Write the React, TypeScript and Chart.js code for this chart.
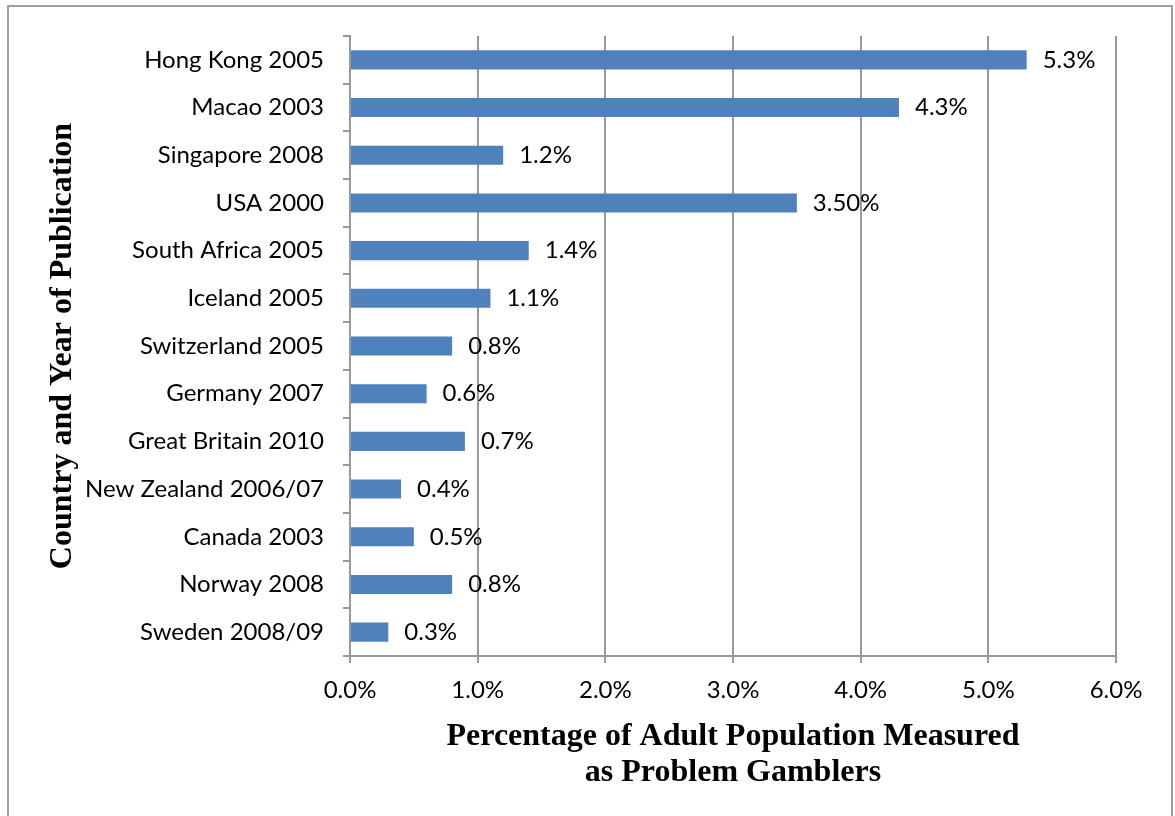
import React, { useEffect, useRef } from "react";
import { Chart, registerables } from "chart.js";

Chart.register(...registerables);

const categories = [
  "Hong Kong 2005",
  "Macao 2003",
  "Singapore 2008",
  "USA 2000",
  "South Africa 2005",
  "Iceland 2005",
  "Switzerland 2005",
  "Germany 2007",
  "Great Britain 2010",
  "New Zealand 2006/07",
  "Canada 2003",
  "Norway 2008",
  "Sweden 2008/09",
];

const values = [5.3, 4.3, 1.2, 3.5, 1.4, 1.1, 0.8, 0.6, 0.9, 0.4, 0.5, 0.8, 0.3];

const valueLabels = [
  "5.3%",
  "4.3%",
  "1.2%",
  "3.50%",
  "1.4%",
  "1.1%",
  "0.8%",
  "0.6%",
  "0.7%",
  "0.4%",
  "0.5%",
  "0.8%",
  "0.3%",
];

const xTitle = ["Percentage of Adult Population Measured", "as Problem Gamblers"];
const yTitle = "Country and Year of Publication";

const labelFont = "Lato, 'Open Sans', sans-serif";
const titleFont = "'Liberation Serif', 'Times New Roman', serif";
const gridColor = "#999999";

const dataLabelPlugin = {
  id: "dataLabels",
  afterDatasetsDraw(chart: any) {
    const ctx = chart.ctx;
    const meta = chart.getDatasetMeta(0);
    ctx.save();
    ctx.font = `24px ${labelFont}`;
    ctx.fillStyle = "#000000";
    ctx.textAlign = "left";
    ctx.textBaseline = "middle";
    meta.data.forEach((el: any, i: number) => {
      ctx.fillText(valueLabels[i], el.x + 16, el.y);
    });
    ctx.restore();
  },
};

export default function App() {
  const ref = useRef<HTMLCanvasElement | null>(null);

  useEffect(() => {
    if (!ref.current) return;
    const chart = new Chart(ref.current, {
      type: "bar",
      data: {
        labels: categories,
        datasets: [
          {
            data: values,
            backgroundColor: "#4f81bd",
            borderWidth: 0,
            categoryPercentage: 1,
            barPercentage: 0.4,
          },
        ],
      },
      options: {
        indexAxis: "y",
        animation: false,
        responsive: false,
        devicePixelRatio: 1,
        layout: { padding: { top: 36, right: 59, bottom: 0, left: 0 } },
        plugins: {
          legend: { display: false },
          tooltip: { enabled: false },
        },
        scales: {
          x: {
            min: 0,
            max: 6,
            afterFit: (scale: any) => {
              scale.height = 160;
            },
            ticks: {
              stepSize: 1,
              color: "#000000",
              padding: 13,
              font: { family: labelFont, size: 24 },
              callback: (v: any) => Number(v).toFixed(1) + "%",
            },
            grid: {
              color: gridColor,
              lineWidth: 2,
              tickLength: 7,
              drawTicks: true,
            },
            border: { color: gridColor, width: 2 },
            title: {
              display: true,
              text: xTitle,
              color: "#000000",
              font: { family: titleFont, size: 32, weight: "bold", lineHeight: 1.1 },
              padding: { top: 0, bottom: 26 },
            },
          },
          y: {
            afterFit: (scale: any) => {
              scale.width = 350;
            },
            ticks: {
              color: "#000000",
              padding: 19,
              font: { family: labelFont, size: 24 },
            },
            grid: {
              drawOnChartArea: false,
              drawTicks: true,
              tickLength: 7,
              color: gridColor,
              lineWidth: 2,
              offset: true,
            },
            border: { color: gridColor, width: 2 },
            title: {
              display: true,
              text: yTitle,
              color: "#000000",
              font: { family: titleFont, size: 32, weight: "bold", lineHeight: 1.1 },
              padding: { top: 45, bottom: 0 },
            },
          },
        },
      },
      plugins: [dataLabelPlugin],
    });
    return () => chart.destroy();
  }, []);

  return (
    <div style={{ position: "absolute", left: 0, top: 0, width: 1175, height: 816, overflow: "hidden", background: "#ffffff" }}>
      <div
        style={{
          position: "absolute",
          left: 7,
          top: 5,
          width: 1166,
          height: 900,
          border: "2px solid #a0a0a0",
          boxSizing: "border-box",
        }}
      />
      <canvas ref={ref} width={1175} height={816} style={{ position: "absolute", left: 0, top: 0 }} />
    </div>
  );
}
